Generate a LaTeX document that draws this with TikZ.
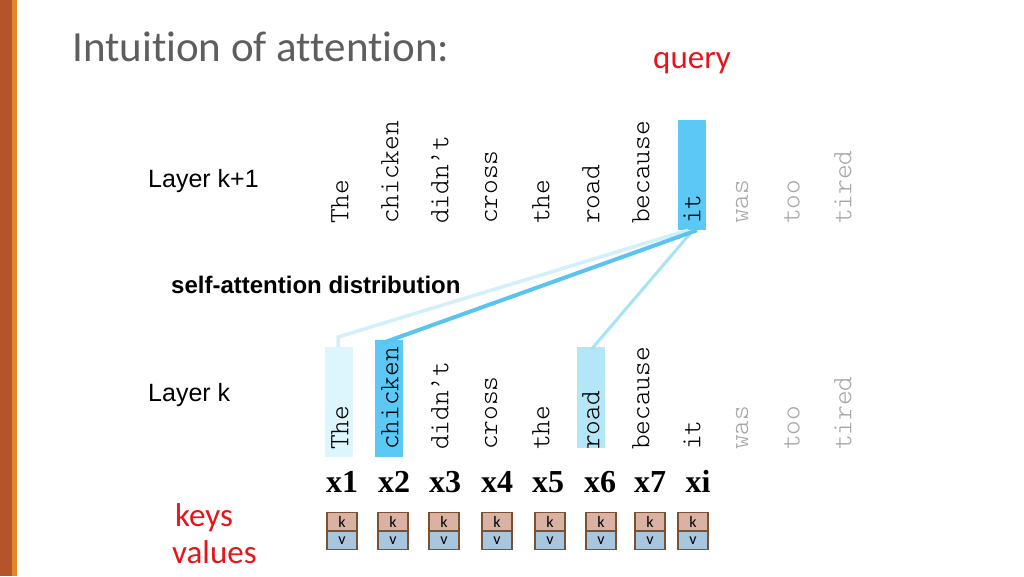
\documentclass[tikz,border=0pt]{standalone}
\usepackage{fontspec}
\setmainfont[Ligatures=NoCommon]{Carlito}
\newfontfamily\arialf{Liberation Sans}
\newfontfamily\timesf{Liberation Serif}
\newcommand\monof{\fontseries{l}\ttfamily}
\definecolor{rustbar}{HTML}{B5542A}
\definecolor{orangebar}{HTML}{E0882A}
\definecolor{titlegray}{HTML}{5E5E5E}
\definecolor{hiblue}{HTML}{5BC8F5}
\definecolor{roadblue}{HTML}{B3E7F8}
\definecolor{theblue}{HTML}{DDF5FC}
\definecolor{linethe}{HTML}{D3F0FA}
\definecolor{lineroad}{HTML}{A8E2F6}
\definecolor{linechick}{HTML}{5BC3F0}
\definecolor{wordgray}{HTML}{A6A6A6}
\definecolor{kfill}{HTML}{D9B2A4}
\definecolor{vfill}{HTML}{A9C6DF}
\definecolor{kvborder}{HTML}{7A5232}
\definecolor{redtxt}{HTML}{E8141B}
\tikzset{
  word/.style={rotate=90, anchor=west, inner sep=0pt, font=\monof\fontsize{28}{28}\selectfont},
  grayword/.style={word, text=wordgray},
  hibox/.style={inner sep=0pt, minimum width=28pt},
  xlab/.style={font=\timesf\bfseries\fontsize{32}{32}\selectfont, inner sep=0pt, anchor=base},
  kbox/.style={draw=kvborder, line width=1.2pt, fill=kfill, minimum width=30pt, minimum height=18pt, inner sep=0pt, font=\fontsize{16}{16}\selectfont},
  vbox/.style={kbox, fill=vfill},
  lbl/.style={font=\arialf\fontsize{25}{25}\selectfont, anchor=west, inner sep=0pt},
  redlbl/.style={text=redtxt, font=\fontsize{33}{33}\selectfont, anchor=west, inner sep=0pt}
}
\begin{document}
\begin{tikzpicture}[x=1pt,y=-1pt]
\useasboundingbox (0,0) rectangle (1024,576);
\fill[white] (0,0) rectangle (1024,576);
% side bar
\fill[rustbar] (0,0) rectangle (12,576);
\fill[orangebar] (12,0) rectangle (17,576);
% title
\node[anchor=base west, inner sep=0pt, text=titlegray, font=\fontsize{43}{43}\selectfont] (title) at (72,61) {Intuition of attention:};
\node[redlbl, anchor=base west] (query) at (653,68) {query};
% highlight boxes
\node[hibox, fill=hiblue, minimum height=110pt] (itTop) at (692,175) {};
\node[hibox, fill=theblue, minimum height=110pt] (theBot) at (339,402) {};
\node[hibox, fill=hiblue, minimum height=117pt] (chickBot) at (389,398.5) {};
\node[hibox, fill=roadblue, minimum height=101pt] (roadBot) at (591,397.5) {};
% connectors
\coordinate (theCorner) at (338,337);
\draw[linethe, line width=3.5pt] ([xshift=-4pt]itTop.south) -- (theCorner) -- (theCorner |- theBot.north);
\draw[lineroad, line width=3pt] ([xshift=1pt]itTop.south) -- ([yshift=-3pt]roadBot.north);
\draw[linechick, line width=4pt] ([xshift=5pt]itTop.south) -- ([xshift=-6pt,yshift=-3pt]chickBot.north);
% layer labels
\node[lbl] (lk1) at (148,181) {Layer k+1};
\node[lbl] (lk) at (148,395) {Layer k};
\node[lbl, font=\arialf\bfseries\fontsize{24}{24}\selectfont] (sad) at (171,285) {self-attention distribution};
% top words
\node[word] (t1) at (340,224) {The};
\node[word] (t2) at (390,224) {chicken};
\node[word] (t3) at (440,224) {didn’t};
\node[word] (t4) at (491,224) {cross};
\node[word] (t5) at (541,224) {the};
\node[word] (t6) at (591,224) {road};
\node[word] (t7) at (641,224) {because};
\node[word] (t8) at (692,224) {it};
\node[grayword] (t9) at (742,224) {was};
\node[grayword] (t10) at (792,224) {too};
\node[grayword] (t11) at (843,224) {tired};
% bottom words
\node[word] (b1) at (340,450) {The};
\node[word] (b2) at (390,450) {chicken};
\node[word] (b3) at (440,450) {didn’t};
\node[word] (b4) at (491,450) {cross};
\node[word] (b5) at (541,450) {the};
\node[word] (b6) at (591,450) {road};
\node[word] (b7) at (641,450) {because};
\node[word] (b8) at (692,450) {it};
\node[grayword] (b9) at (742,450) {was};
\node[grayword] (b10) at (792,450) {too};
\node[grayword] (b11) at (843,450) {tired};
% x labels
\node[xlab] (x1) at (342,492) {x1};
\node[xlab] (x2) at (394,492) {x2};
\node[xlab] (x3) at (445,492) {x3};
\node[xlab] (x4) at (497,492) {x4};
\node[xlab] (x5) at (548,492) {x5};
\node[xlab] (x6) at (600,492) {x6};
\node[xlab] (x7) at (650,492) {x7};
\node[xlab] (xi) at (698,492) {xi};
% key/value boxes
\foreach \n/\cx in {1/342,2/393,3/444,4/497,5/550,6/601,7/650,8/693}{
  \node[kbox] (k\n) at (\cx,521.5) {k};
  \node[vbox, anchor=north] (v\n) at (k\n.south) {v};
}
\node[redlbl] (keys) at (175,518) {keys};
\node[redlbl] (values) at (172,552) {values};
\end{tikzpicture}
\end{document}
